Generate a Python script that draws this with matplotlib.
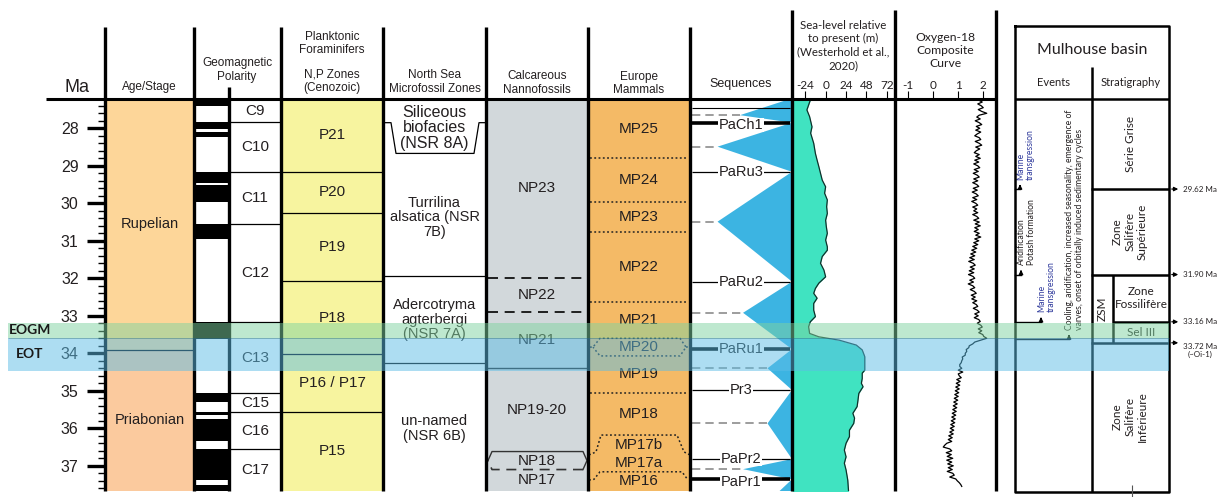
import numpy as np
import matplotlib
matplotlib.use('Agg')
import matplotlib.pyplot as plt
from matplotlib.patches import Rectangle, Polygon
from matplotlib.ticker import FixedLocator, MultipleLocator

plt.rcParams['font.family'] = ['Liberation Sans', 'DejaVu Sans']
plt.rcParams['axes.unicode_minus'] = False
HUM = ['Lato', 'DejaVu Sans']   # Myriad-like labels

# ---------------- data (ages in Ma) ----------------
stage_names = ['Rupelian', 'Priabonian']
stage_edges = [27.0, 33.9, 38.0]
stage_colors = ['#fdd699', '#fbca9e']

normal_top = [27.0, 27.84, 28.10, 29.16, 29.51, 30.56, 33.17, 35.06, 35.56, 35.74, 36.55, 37.52]
normal_bot = [27.40, 28.03, 28.22, 29.45, 29.96, 30.96, 33.63, 35.30, 35.65, 36.33, 37.38, 38.0]

chron_names = ['C9', 'C10', 'C11', 'C12', 'C13', 'C15', 'C16', 'C17']
chron_edges = [27.0, 27.84, 29.16, 30.56, 33.17, 35.06, 35.57, 36.56, 38.0]

foram_names = ['P21', 'P20', 'P19', 'P18', 'P16 / P17', 'P15']
foram_edges = [27.0, 29.16, 30.25, 32.07, 34.03, 35.56, 38.0]

nsr_names = ['Siliceous\nbiofacies\n(NSR 8A)', 'Turrilina\nalsatica (NSR\n7B)',
             'Adercotryma\nagterbergi\n(NSR 7A)', 'un-named\n(NSR 6B)']
nsr_label_age = [27.99, 30.37, 33.11, 36.0]
nsr_edges = [31.94, 34.26]
nsr8a_edges = [27.85, 28.67]

nanno_names = ['NP23', 'NP22', 'NP21', 'NP19-20', 'NP18', 'NP17']
nanno_edges = [27.0, 31.99, 32.89, 34.40, 36.62, 37.10, 38.0]

mp_names = ['MP25', 'MP24', 'MP23', 'MP22', 'MP21', 'MP20', 'MP19', 'MP18',
            'MP17b', 'MP17a', 'MP16']
mp_edges = [27.0, 28.80, 29.96, 30.76, 32.62, 33.60, 34.07, 35.06, 36.18, 36.71, 37.16, 38.0]

seq_names = ['PaCh1', 'PaRu3', 'PaRu2', 'PaRu1', 'Pr3', 'PaPr2', 'PaPr1']
seq_ages = [27.85, 29.16, 32.09, 33.89, 34.98, 36.82, 37.36]
seq_thick = [True, False, False, True, False, False, True]
seq_minor = [27.46]
mfs_ages = [27.65, 28.49, 30.49, 32.92, 34.40, 35.87, 37.09, 38.0]
mfs_depth = [0.49, 0.27, 0.27, 0.52, 0.76, 0.76, 0.52, 0.75]

sl_age = [27.22, 27.25, 27.51, 27.69, 27.96, 28.13, 28.40, 28.67, 28.85, 29.02, 29.20,
          29.38, 29.56, 29.73, 29.91, 30.09, 30.27, 30.45, 30.62, 30.80, 30.98, 31.16,
          31.25, 31.42, 31.60, 31.78, 31.96, 32.13, 32.27, 32.40, 32.53, 32.67, 32.85,
          33.02, 33.16, 33.29, 33.47, 33.56, 33.65, 33.78, 33.91, 34.09, 34.27, 34.45,
          34.53, 34.67, 34.80, 34.89, 35.07, 35.25, 35.42, 35.60, 35.73, 35.87, 36.05,
          36.22, 36.40, 36.58, 36.76, 36.93, 37.11, 37.38, 37.70]
sl_m = [-18, -18, -22, -18.8, -16, -17.6, -14, -12, -10, -8, -6,
        -4, 0, -1.2, 2, 1.2, 2, 0, 0.8, 2, 0, 2,
        2, -4, -6, -2, 0, -8, -12, -14, -10, -14, -14,
        -12, -18, -20, -18.8, -8, 16, 36, 43, 46, 46, 46,
        43, 43, 42, 44, 39, 38, 37, 32, 34, 33, 28,
        28, 24, 22, 24, 22, 24, 26, 27]
sl_ticks = [-24, 0, 24, 48, 72]

o18_age = np.round(np.arange(27.25, 37.5501, 0.05), 2)
o18 = [1.82, 1.96, 1.78, 1.92, 2.00, 1.80, 1.94, 2.14, 1.84, 1.74,
       1.88, 1.68, 1.84, 1.94, 1.72, 1.86, 1.70, 1.90, 1.76, 1.66,
       1.84, 1.90, 1.68, 1.84, 1.94, 1.70, 1.86, 1.72, 1.64, 1.84,
       1.70, 1.88, 1.66, 1.82, 1.62, 1.78, 1.86, 1.64, 1.80, 1.60,
       1.76, 1.84, 1.62, 1.78, 1.58, 1.74, 1.82, 1.60, 1.76, 1.56,
       1.72, 1.80, 1.58, 1.74, 1.54, 1.70, 1.78, 1.58, 1.74, 1.62,
       1.78, 1.58, 1.74, 1.82, 1.62, 1.84, 1.68, 1.88, 1.66, 1.80,
       1.64, 1.84, 1.70, 1.90, 1.66, 1.82, 1.62, 1.78, 1.58, 1.74,
       1.54, 1.70, 1.50, 1.66, 1.46, 1.64, 1.42, 1.60, 1.68, 1.48,
       1.64, 1.44, 1.62, 1.41, 1.59, 1.66, 1.46, 1.61, 1.40, 1.58,
       1.66, 1.48, 1.64, 1.72, 1.52, 1.68, 1.54, 1.74, 1.58, 1.72,
       1.78, 1.60, 1.76, 1.84, 1.66, 1.80, 1.64, 1.82, 1.88, 1.76,
       1.90, 1.96, 1.80, 1.94, 1.82, 1.98, 2.02, 2.14, 1.90, 1.66,
       1.58, 1.44, 1.42, 1.32, 1.34, 1.28, 1.28, 1.16, 1.18, 1.14,
       1.12, 1.06, 1.06, 1.14, 1.00, 1.18, 1.00, 1.04, 1.12, 0.94,
       1.08, 0.92, 1.06, 0.90, 1.04, 0.88, 1.02, 0.86, 1.00, 0.84,
       0.98, 0.82, 0.96, 0.80, 0.94, 0.78, 0.92, 0.76, 0.90, 0.74,
       0.88, 0.72, 0.86, 0.70, 0.84, 0.68, 0.82, 0.66, 0.80, 0.62,
       0.76, 0.60, 0.74, 0.54, 0.46, 0.40, 0.66, 0.74, 0.52, 0.72,
       0.56, 0.78, 0.54, 0.74, 0.58, 0.80, 0.60, 0.76, 0.56, 0.78,
       0.84, 0.66, 0.90, 0.96, 1.04, 1.10, 1.14]
o18_ticks = [-1, 0, 1, 2]

eogm = (33.18, 33.60)
eot = (33.60, 34.46)

mul_units = ['Série Grise', 'Zone\nSalifère\nSupérieure', 'ZSM', 'Zone\nFossilifère',
             'Sel III', 'Zone\nSalifère\nInférieure']
mul_unit_top = [27.0, 29.62, 31.90, 31.90, 33.16, 33.72]
mul_unit_bot = [29.62, 31.90, 33.72, 33.16, 33.72, 38.0]
mul_bounds = [29.62, 31.90, 33.16, 33.72]
mul_events = ['Marine\ntransgression', 'Aridification\nPotash formation',
              'Marine\ntransgression',
              'Cooling, aridification, increased seasonality, emergence of\n'
              'varves, onset of orbitally induced sedimentary cycles']
mul_event_age = [29.62, 31.90, 33.16, 33.62]
mul_event_blue = [True, False, True, False]

# ---------------- layout (pixels) ----------------
W, H, DPI = 1222, 497, 100
TOP_PX, BOT_PX = 99, 491


def ma(ypix):
    return 28 + (ypix - 128.3) / 37.5


MA_TOP, MA_BOT = ma(TOP_PX), ma(BOT_PX)


def box(x0, y0, x1, y1):
    return [x0 / W, 1 - y1 / H, (x1 - x0) / W, (y1 - y0) / H]


def mid(a, b):
    return (max(a, MA_TOP) + min(b, MA_BOT)) / 2


fig = plt.figure(figsize=(W / DPI, H / DPI), dpi=DPI)

ax = fig.add_axes(box(0, TOP_PX, W, BOT_PX), zorder=1)
ax.set_xlim(0, W)
ax.set_ylim(MA_BOT, MA_TOP)
ax.axis('off')

lay = fig.add_axes([0, 0, 1, 1], zorder=3)
lay.set_xlim(0, W)
lay.set_ylim(H, 0)
lay.axis('off')

TXT = '#231f20'

# Age / stage
for name, t, b, c in zip(stage_names, stage_edges[:-1], stage_edges[1:], stage_colors):
    ax.add_patch(Rectangle((105, t), 89, b - t, fc=c, ec='none'))
    ax.text(149.5, mid(t, b), name, ha='center', va='center', fontsize=10.5, color=TXT)
ax.hlines(stage_edges[1:-1], 105, 194, color='black', lw=0.9)

# polarity
for t, b in zip(normal_top, normal_bot):
    ax.add_patch(Rectangle((194, t), 35, b - t, fc='black', ec='none'))
ax.hlines(chron_edges[1:-1], 229, 281, color='black', lw=0.9)
for name, t, b in zip(chron_names, chron_edges[:-1], chron_edges[1:]):
    ax.text(255, mid(t, b), name, ha='center', va='center', fontsize=11, color=TXT)

# planktonic forams
ax.add_patch(Rectangle((281, 27.0), 102, 11, fc='#f7f49f', ec='none'))
ax.hlines(foram_edges[1:-1], 281, 383, color='black', lw=0.9)
for name, t, b in zip(foram_names, foram_edges[:-1], foram_edges[1:]):
    ax.text(332, mid(t, b), name, ha='center', va='center', fontsize=11, color=TXT)

# North Sea zones
ax.hlines(nsr_edges, 383, 486, color='black', lw=0.9)
t8, b8 = nsr8a_edges
ax.plot([384, 391, 396, 474, 479, 485], [t8, t8, b8, b8, t8, t8], color='black', lw=0.9)
for i, (name, a) in enumerate(zip(nsr_names, nsr_label_age)):
    ax.text(434.5, a, name, ha='center', va='center', fontsize=11.5 if i == 0 else 10.5,
            color=TXT, linespacing=1.05)

# calcareous nannofossils
ax.add_patch(Rectangle((486, 27.0), 102, 11, fc='#d2d8db', ec='none'))
ax.hlines(nanno_edges[1:3], 488, 586, color='black', lw=1.2, linestyles=(0, (6, 4)))
ax.hlines(nanno_edges[3], 486, 588, color='#222222', lw=1.0)
nt, nb = nanno_edges[4], nanno_edges[5]
nm = (nt + nb) / 2
ax.plot([488, 492, 583, 587, 583], [nm, nt, nt, nm, nb], color='#333333', lw=1.0)
ax.plot([583, 492, 488], [nb, nb, nm], color='#333333', lw=1.2, ls=(0, (6, 4)))
for name, t, b in zip(nanno_names, nanno_edges[:-1], nanno_edges[1:]):
    ax.text(537, mid(t, b), name, ha='center', va='center', fontsize=11, color=TXT)

# European mammals
ax.add_patch(Rectangle((588, 27.0), 102, 11, fc='#f4ba66', ec='none'))
dot = dict(color='#222222', lw=1.1, ls=(0, (1.2, 1.6)))
for k in (1, 2, 3, 4, 7):
    ax.hlines(mp_edges[k], 590, 688, **dot)
h0, h1 = mp_edges[5], mp_edges[6]
hm = (h0 + h1) / 2
ax.plot([590, 593, 600, 680, 686, 680, 600, 593], [hm, hm, h0, h0, hm, h1, h1, hm], **dot)
ax.plot([686, 690], [hm, hm], **dot)
s0, s1, s2 = mp_edges[8], mp_edges[9], mp_edges[10]
ax.plot([589, 596, 601, 677, 684, 690], [s1, s1 - 0.08, s0, s0, s1 - 0.08, s1], **dot)
ax.plot([589, 594, 600, 682, 688], [s2 + 0.22, s2 + 0.2, s2, s2, s2 + 0.22], **dot)
for name, t, b in zip(mp_names, mp_edges[:-1], mp_edges[1:]):
    ax.text(639, mid(t, b), name, ha='center', va='center', fontsize=11, color=TXT)

# sequences
sx0, sx1 = 690, 792
bnds = [27.2] + seq_ages
verts = []
for b, a, d in zip(bnds, mfs_ages, mfs_depth):
    verts += [(sx1, b), (sx0 + d * (sx1 - sx0), a)]
verts.append((sx1, 38.0))
ax.add_patch(Polygon(verts, closed=True, fc='#3cb4e2', ec='none'))
for a, d in zip(mfs_ages, mfs_depth):
    ax.plot([692, sx0 + d * (sx1 - sx0)], [a, a], color='#8c8c8c', lw=1.2, ls=(0, (5, 3)))
ax.hlines(seq_minor, 692, 790, color='black', lw=0.8)
for name, a, thick in zip(seq_names, seq_ages, seq_thick):
    ax.hlines(a, 692, 790, color='black', lw=2.6 if thick else 0.9)
    ax.text(741, a + (0.06 if name in ('PaCh1', 'PaPr1') else 0), name, ha='center',
            va='center', fontsize=10.5, color=TXT,
            bbox=dict(fc='white', ec='none', pad=0.2))

# sea level
sl = fig.add_axes(box(792, TOP_PX, 895, BOT_PX), zorder=2)
sl.set_xlim(-39.5, 81.5)
sl.set_ylim(MA_BOT, MA_TOP)
sl.fill_betweenx(sl_age, -39.5, sl_m, color='#40e3c1', lw=0)
sl.plot(sl_m, sl_age, color='#10302a', lw=0.9)

# oxygen-18
ox = fig.add_axes(box(895, TOP_PX, 996, BOT_PX), zorder=2)
ox.set_xlim(-1.53, 2.51)
ox.set_ylim(MA_BOT, MA_TOP)
ox.plot(o18, o18_age, color='black', lw=0.9)

for a_, ticks in ((sl, sl_ticks), (ox, o18_ticks)):
    a_.xaxis.tick_top()
    a_.set_xticks(ticks)
    a_.set_xticklabels([str(t) for t in ticks], fontfamily=HUM, fontsize=8.5, color=TXT)
    a_.tick_params(axis='x', direction='out', length=5.5, width=0.8, pad=0.5)
    a_.set_yticks([])
    for s in a_.spines.values():
        s.set_visible(False)
    a_.patch.set_visible(False)

# Ma axis
am = fig.add_axes(box(105, TOP_PX, 106, BOT_PX), zorder=2)
am.set_ylim(MA_BOT, MA_TOP)
am.yaxis.set_major_locator(FixedLocator(list(range(28, 38))))
am.yaxis.set_minor_locator(MultipleLocator(0.2))
am.tick_params(axis='y', which='major', direction='out', length=13, width=2.4, pad=6,
               labelsize=11.5, labelcolor=TXT)
am.tick_params(axis='y', which='minor', direction='out', length=5, width=1.0)
am.xaxis.set_visible(False)
for s in am.spines.values():
    s.set_visible(False)
am.patch.set_visible(False)

# Mulhouse basin
MB = '#2f3a9c'
for name, t, b in zip(mul_units, mul_unit_top, mul_unit_bot):
    narrow = name == 'ZSM'
    right = name in ('Zone\nFossilifère', 'Sel III')
    x = 1102 if narrow else (1141 if right else 1130)
    rot = 0 if right else 90
    ax.text(x, mid(t, b), name, ha='center', va='center', rotation=rot, fontsize=8.5,
            family=HUM, color=TXT, linespacing=1.15, multialignment='center')
ax.hlines([mul_bounds[0], mul_bounds[1], mul_bounds[3]], 1091, 1169, color='black', lw=1.8)
ax.hlines(mul_bounds[2], 1113, 1169, color='black', lw=1.8)
ax.vlines(1113, mul_bounds[1], mul_bounds[3], color='black', lw=1.8)
for a in mul_bounds:
    ax.annotate('', xy=(1181, a), xytext=(1169, a),
                arrowprops=dict(arrowstyle='-|>', color='black', lw=0.9, mutation_scale=6))
    lab = f'{a:.2f} Ma' + ('\n(~Oi-1)' if a == mul_bounds[-1] else '')
    ax.text(1183, a, lab, ha='left', va='top' if '\n' in lab else 'center',
            fontsize=5.8, family=HUM, color=TXT, multialignment='center')
ev_x = [1020, 1021, 1041, 1069]
for txt, a, blue, x in zip(mul_events, mul_event_age, mul_event_blue, ev_x):
    ax.plot([1015, x], [a, a], color='black', lw=1.0)
    ax.annotate('', xy=(x, a - 0.2), xytext=(x, a),
                arrowprops=dict(arrowstyle='-|>', color='black', lw=1.0, mutation_scale=6))
    ax.text(x + 5.5, a - 0.25, txt, rotation=90, rotation_mode='anchor', ha='left',
            va='center', fontsize=6.2, family=HUM, color=MB if blue else TXT,
            linespacing=1.05)

# bands on top
bd = fig.add_axes(box(0, TOP_PX, W, BOT_PX), zorder=5)
bd.set_xlim(0, W)
bd.set_ylim(MA_BOT, MA_TOP)
bd.axis('off')
bd.add_patch(Rectangle((8, eogm[0]), 1161, eogm[1] - eogm[0], fc='#7fd3a0', alpha=0.5, ec='none'))
bd.add_patch(Rectangle((8, eot[0]), 1161, eot[1] - eot[0], fc='#5cbde6', alpha=0.5, ec='none'))
bd.hlines(eot[0], 8, 1169, color='#2f6f70', lw=0.6, alpha=0.5)
bd.text(30, sum(eogm) / 2, 'EOGM', ha='center', va='center', fontsize=10, weight='bold',
        family=HUM, color='#1a1a1a')
bd.text(30, sum(eot) / 2, 'EOT', ha='center', va='center', fontsize=10, weight='bold',
        family=HUM, color='#1a1a1a')

# frame: column separators, header rule, headers
for x, top in [(105, 27), (194, 27), (281, 27), (383, 27), (486, 27), (588, 27),
               (690, 27), (792, 10), (895, 10), (996, 10), (229, 87)]:
    lay.vlines(x, top, BOT_PX, color='black', lw=2.4)
lay.hlines(TOP_PX, 46, 996, color='black', lw=2.2)

hdr = dict(ha='center', va='center', fontsize=8.5, color=TXT, linespacing=1.2)
lay.text(77, 87, 'Ma', ha='center', va='center', fontsize=13, color=TXT)
lay.text(149.5, 87, 'Age/Stage', **hdr)
lay.text(237, 70, 'Geomagnetic\nPolarity', **hdr)
lay.text(332, 43.5, 'Planktonic\nForaminifers', **hdr)
lay.text(332, 81, 'N,P Zones\n(Cenozoic)', **hdr)
lay.text(434.5, 82, 'North Sea\nMicrofossil Zones', **hdr)
lay.text(537, 83, 'Calcareous\nNannofossils', **hdr)
lay.text(639, 83.5, 'Europe\nMammals', **hdr)
lay.text(741, 84, 'Sequences', ha='center', va='center', fontsize=9, color=TXT)
lay.text(843.5, 45.5, 'Sea-level relative\nto present (m)\n(Westerhold et al.,\n2020)',
         ha='center', va='center', fontsize=8.3, family=HUM, color=TXT, linespacing=1.25)
lay.text(945.5, 50.5, 'Oxygen-18\nComposite\nCurve', ha='center', va='center', fontsize=8.7,
         family=HUM, color=TXT, linespacing=1.25)

# Mulhouse frame
lw_m = 1.8
lay.plot([1015, 1169, 1169, 1015, 1015], [26, 26, 492, 492, 26], color='black', lw=lw_m)
lay.hlines(TOP_PX, 1015, 1169, color='black', lw=lw_m)
lay.vlines(1091.5, 67, 492, color='black', lw=lw_m)
lay.vlines(1132, 485, 497, color='#555555', lw=0.8)
lay.text(1092, 50, 'Mulhouse basin', ha='center', va='center', fontsize=11.5, family=HUM,
         color=TXT)
lay.text(1053, 82, 'Events', ha='center', va='center', fontsize=8, family=HUM, color=TXT)
lay.text(1130.5, 82, 'Stratigraphy', ha='center', va='center', fontsize=8, family=HUM,
         color=TXT)

fig.savefig('out.png', dpi=DPI, facecolor='white')
